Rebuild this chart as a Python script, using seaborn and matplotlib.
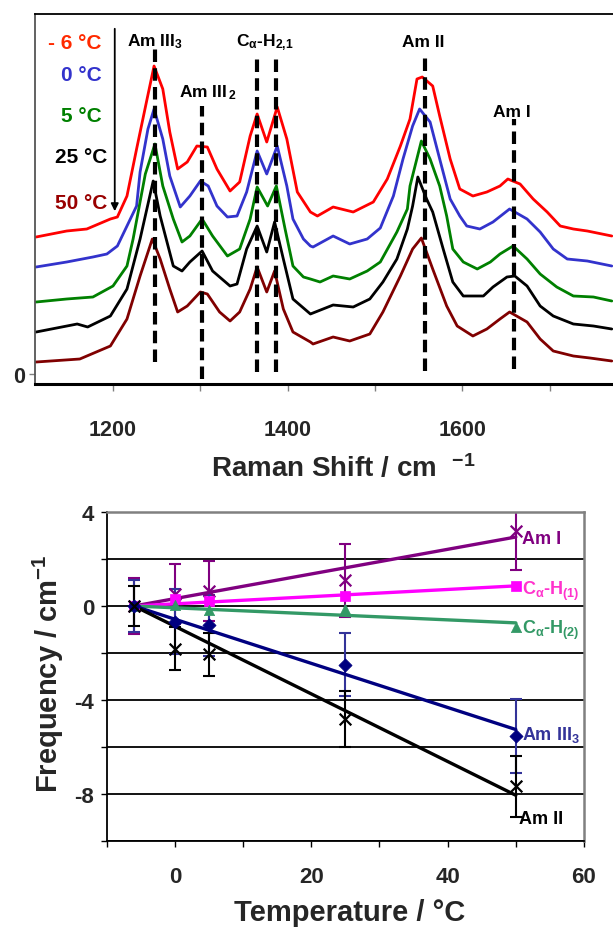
import numpy as np
import pandas as pd
import matplotlib
matplotlib.use("Agg")
import matplotlib.pyplot as plt
import seaborn as sns

# ---------------- top panel: Raman spectra ----------------
spec_temps = ["- 6 °C", "0 °C", "5 °C", "25 °C", "50 °C"]
spec_colors = ["#FF0000", "#3333CC", "#008000", "#000000", "#800000"]
label_colors = ["#FF2A00", "#3333CC", "#008000", "#000000", "#990000"]

wn_m6 = [1112, 1147, 1170, 1197, 1205, 1216, 1227, 1239, 1247, 1257, 1265, 1274, 1285, 1296, 1308, 1319, 1334,
         1345, 1357, 1365, 1376, 1388, 1399, 1411, 1426, 1434, 1452, 1475, 1498, 1514, 1529, 1540, 1548, 1554,
         1566, 1574, 1586, 1597, 1612, 1628, 1643, 1652, 1666, 1681, 1697, 1712, 1727, 1743, 1771]
I_m6 = [1.37, 1.43, 1.45, 1.55, 1.57, 1.78, 2.25, 2.75, 3.08, 2.85, 2.42, 2.05, 2.12, 2.28, 2.27, 2.05, 1.83,
        1.92, 2.38, 2.60, 2.32, 2.67, 2.35, 1.82, 1.62, 1.58, 1.67, 1.62, 1.72, 1.95, 2.28, 2.55, 2.95, 2.97,
        2.88, 2.58, 2.15, 1.85, 1.78, 1.82, 1.88, 1.95, 1.90, 1.75, 1.62, 1.48, 1.45, 1.43, 1.38]

wn_0 = [1112, 1147, 1177, 1193, 1205, 1216, 1227, 1231, 1240, 1247, 1257, 1265, 1277, 1288, 1300, 1309, 1319,
        1331, 1342, 1353, 1365, 1376, 1388, 1399, 1406, 1418, 1426, 1429, 1452, 1471, 1491, 1506, 1521, 1532,
        1543, 1551, 1563, 1574, 1586, 1597, 1605, 1620, 1635, 1654, 1674, 1689, 1704, 1720, 1743, 1771]
I_0 = [1.07, 1.12, 1.17, 1.20, 1.28, 1.48, 1.68, 2.02, 2.45, 2.65, 2.35, 1.98, 1.67, 1.78, 1.93, 1.88, 1.68,
       1.57, 1.58, 1.82, 2.23, 2.00, 2.28, 1.88, 1.55, 1.35, 1.28, 1.27, 1.38, 1.30, 1.35, 1.46, 1.78, 2.15,
       2.48, 2.65, 2.52, 2.15, 1.75, 1.58, 1.48, 1.45, 1.52, 1.65, 1.55, 1.42, 1.25, 1.15, 1.13, 1.08]

wn_5 = [1112, 1147, 1177, 1200, 1216, 1223, 1237, 1248, 1257, 1269, 1279, 1288, 1302, 1314, 1331, 1345, 1357,
        1365, 1377, 1387, 1397, 1406, 1418, 1426, 1437, 1452, 1471, 1491, 1506, 1525, 1537, 1540, 1553, 1563,
        1574, 1582, 1589, 1601, 1617, 1632, 1643, 1658, 1674, 1689, 1708, 1727, 1750, 1771]
I_5 = [0.72, 0.75, 0.77, 0.88, 1.08, 1.35, 2.00, 2.30, 1.88, 1.55, 1.32, 1.38, 1.55, 1.38, 1.18, 1.25, 1.55,
       1.87, 1.68, 1.88, 1.45, 1.08, 0.97, 0.95, 0.92, 0.98, 0.95, 1.03, 1.12, 1.42, 1.65, 1.88, 2.33, 2.15,
       1.88, 1.58, 1.25, 1.12, 1.05, 1.12, 1.20, 1.28, 1.15, 1.00, 0.87, 0.78, 0.77, 0.73]

wn_25 = [1112, 1159, 1171, 1197, 1216, 1231, 1246, 1254, 1269, 1279, 1288, 1302, 1314, 1334, 1342, 1353, 1365,
         1376, 1385, 1395, 1406, 1426, 1452, 1475, 1494, 1509, 1525, 1537, 1543, 1549, 1559, 1566, 1578, 1589,
         1601, 1624, 1635, 1651, 1660, 1674, 1689, 1704, 1727, 1750, 1771]
I_25 = [0.42, 0.50, 0.47, 0.58, 0.85, 1.35, 1.93, 1.58, 1.08, 1.03, 1.12, 1.23, 1.03, 0.88, 0.90, 1.25, 1.48,
        1.22, 1.52, 1.15, 0.75, 0.60, 0.69, 0.67, 0.75, 0.92, 1.15, 1.45, 1.68, 1.97, 1.75, 1.62, 1.25, 0.92,
        0.78, 0.78, 0.87, 0.97, 0.98, 0.88, 0.68, 0.58, 0.50, 0.48, 0.45]

wn_50 = [1112, 1162, 1197, 1216, 1231, 1245, 1254, 1265, 1274, 1285, 1300, 1308, 1322, 1334, 1345, 1357, 1365,
         1376, 1385, 1395, 1406, 1426, 1429, 1452, 1471, 1494, 1509, 1529, 1543, 1553, 1566, 1582, 1594, 1612,
         1628, 1643, 1654, 1674, 1689, 1704, 1727, 1746, 1771]
I_50 = [0.12, 0.15, 0.28, 0.55, 0.98, 1.35, 1.15, 0.85, 0.62, 0.68, 0.82, 0.80, 0.62, 0.53, 0.62, 0.85, 1.07,
        0.82, 1.03, 0.65, 0.42, 0.32, 0.30, 0.37, 0.33, 0.40, 0.62, 0.98, 1.25, 1.36, 1.05, 0.68, 0.48, 0.38,
        0.45, 0.55, 0.62, 0.52, 0.35, 0.23, 0.18, 0.16, 0.13]

peak_wn = [1248, 1302, 1365, 1387, 1557, 1659]
peak_top = [3.28, 2.68, 3.18, 3.18, 3.18, 2.55]
peak_bottom = [0.12, -0.05, 0.02, 0.02, 0.03, 0.05]
peak_names = ["Am III$_3$", "Am III$_{\\,2}$", "C$_α$-H$_{2,\\!1}$", "Am II", "Am I"]
peak_label_wn = [1248, 1308, 1374, 1555, 1657]
peak_label_I = [3.33, 2.82, 3.32, 3.33, 2.63]

# ---------------- bottom panel: frequency shifts ----------------
temperature = [-6, 0, 5, 25, 50]
modes = ["Am I", "Cα-H(1)", "Cα-H(2)", "Am III3", "Am II"]
mode_labels = ["Am I", "C$_α$-H$_{(1)}$", "C$_α$-H$_{(2)}$", "Am III$_3$", "Am II"]
shift_amI = [0.0, 0.50, 0.64, 1.09, 3.20]
shift_caH1 = [0.0, 0.30, 0.21, 0.43, 0.85]
shift_caH2 = [0.0, 0.05, -0.17, -0.12, -0.88]
shift_amIII3 = [0.0, -0.66, -0.82, -2.49, -5.52]
shift_amII = [0.0, -1.81, -2.06, -4.80, -7.67]
err_amI = [1.20, 1.27, 1.28, 1.55, 1.66]
err_amIII3 = [1.10, 1.40, 1.30, 1.35, 1.58]
err_amII = [0.85, 0.93, 0.92, 1.20, 1.30]

mode_colors = ["#800080", "#FF00FF", "#339966", "#000080", "#000000"]
mode_label_colors = ["#800080", "#FF33CC", "#339966", "#333399", "#000000"]
err_colors = ["#800080", None, None, "#333399", "#000000"]
mode_markers = ["x", "s", "^", "D", "x"]
mode_msize = [70, 45, 55, 45, 70]
label_baseline = [2.70, 0.50, -1.14, -5.67, -9.23]
label_T = [50.95, 50.95, 50.95, 50.95, 50.4]

# ---------------- style ----------------
sns.set_style("ticks")
plt.rcParams["font.family"] = ["Liberation Sans", "DejaVu Sans"]
plt.rcParams["font.weight"] = "bold"
plt.rcParams["axes.labelweight"] = "bold"
plt.rcParams["mathtext.fontset"] = "custom"
plt.rcParams["mathtext.rm"] = "Liberation Sans:bold"
plt.rcParams["mathtext.it"] = "Liberation Sans:bold"
plt.rcParams["mathtext.bf"] = "Liberation Sans:bold"
plt.rcParams["mathtext.sf"] = "Liberation Sans:bold"
plt.rcParams["mathtext.default"] = "rm"

fig = plt.figure(figsize=(6.13, 9.29), dpi=100)

# ================= TOP =================
ax1 = fig.add_axes([35 / 613, 1 - 385 / 929, 1 - 35 / 613, 370 / 929])
spec_frames = []
for name, wn, inten in zip(spec_temps, [wn_m6, wn_0, wn_5, wn_25, wn_50],
                           [I_m6, I_0, I_5, I_25, I_50]):
    spec_frames.append(pd.DataFrame({"wn": wn, "I": inten, "temp": name}))
spec_df = pd.concat(spec_frames, ignore_index=True)
sns.lineplot(data=spec_df, x="wn", y="I", hue="temp", hue_order=spec_temps,
             palette=dict(zip(spec_temps, spec_colors)), estimator=None, sort=False,
             legend=False, lw=2.0, ax=ax1)

ax1.vlines(peak_wn, peak_bottom, peak_top, colors="black", lw=3.0,
           linestyles=[(0, (3.0, 1.5))], zorder=5)
for name, x, y in zip(peak_names, peak_label_wn, peak_label_I):
    ax1.text(x, y, name, ha="center", va="center", fontsize=12.5, fontweight="bold", color="black")

temp_label_wn = [1187, 1187, 1187, 1194, 1194]
temp_label_I = [3.32, 3.00, 2.59, 2.18, 1.72]
for name, c, x, y in zip(spec_temps, label_colors, temp_label_wn, temp_label_I):
    ax1.text(x, y, name, ha="right", va="center", fontsize=15, fontweight="bold", color=c)
ax1.annotate("", xy=(1202, 1.60), xytext=(1202, 3.48),
             arrowprops=dict(arrowstyle="-|>", lw=1.3, color="black", mutation_scale=11))

ax1.set_xlim(1110.7, 1772.4)
ax1.set_ylim(-0.10, 3.60)
ax1.set_xticks([1200, 1300, 1400, 1500, 1600, 1700])
ax1.set_xticklabels(["1200", "", "1400", "", "1600", ""])
ax1.set_yticks([0])
ax1.set_yticklabels(["0"])
ax1.tick_params(axis="x", length=5, width=1, color="#808080", labelsize=15.5, pad=20)
ax1.tick_params(axis="y", length=4, width=1, color="#808080", labelsize=15.5, pad=3)
ax1.set_xlabel("")
ax1.set_ylabel("")
ax1.spines["right"].set_visible(False)
ax1.spines["top"].set_color("black")
ax1.spines["top"].set_linewidth(1.3)
ax1.spines["left"].set_color("#555555")
ax1.spines["left"].set_linewidth(1.3)
ax1.spines["bottom"].set_color("black")
ax1.spines["bottom"].set_linewidth(2.2)
for lab in ax1.get_xticklabels() + ax1.get_yticklabels():
    lab.set_fontweight("bold")

fig.text(343 / 613, 1 - 477 / 929, "Raman Shift / cm  $^{-1}$", ha="center", va="baseline",
         fontsize=20, fontweight="bold")

# ================= BOTTOM =================
ax2 = fig.add_axes([106.7 / 613, 1 - 842 / 929, (584 - 106.7) / 613, (842 - 513) / 929])
shift_lists = [shift_amI, shift_caH1, shift_caH2, shift_amIII3, shift_amII]
err_lists = [err_amI, None, None, err_amIII3, err_amII]

rows = []
for m, vals in zip(modes, shift_lists):
    for t, v in zip(temperature, vals):
        rows.append({"T": t, "shift": v, "mode": m})
shift_df = pd.DataFrame(rows)

# linear fits through the reference point (first temperature, zero shift)
t0 = temperature[0]
fit_rows = []
for m, vals in zip(modes, shift_lists):
    dT = np.array(temperature) - t0
    slope = np.sum(dT * np.array(vals)) / np.sum(dT ** 2)
    for t in (temperature[0], temperature[-1]):
        fit_rows.append({"T": t, "fit": slope * (t - t0), "mode": m})
fit_df = pd.DataFrame(fit_rows)

ax2.yaxis.grid(True, color="black", lw=1.3)
ax2.set_axisbelow(True)

for m, vals, errs, ec in zip(modes, shift_lists, err_lists, err_colors):
    if errs is not None:
        ax2.errorbar(temperature, vals, yerr=errs, fmt="none", ecolor=ec, elinewidth=1.5,
                     capsize=4.5, capthick=1.5, zorder=2)

sns.lineplot(data=fit_df, x="T", y="fit", hue="mode", hue_order=modes,
             palette=dict(zip(modes, mode_colors)), estimator=None, legend=False, lw=2.4,
             ax=ax2, zorder=3)

for m, c, mk, ms in zip(modes, mode_colors, mode_markers, mode_msize):
    sub = shift_df[shift_df["mode"] == m]
    if mk == "x":
        sns.scatterplot(data=sub, x="T", y="shift", marker=mk, s=ms, color=c,
                        linewidth=1.6, legend=False, ax=ax2, zorder=4)
    else:
        sns.scatterplot(data=sub, x="T", y="shift", marker=mk, s=ms, color=c,
                        edgecolor=c, linewidth=0.5, legend=False, ax=ax2, zorder=4)

for lab, c, x, y in zip(mode_labels, mode_label_colors, label_T, label_baseline):
    ax2.text(x, y, lab, ha="left", va="baseline", fontsize=13, fontweight="bold", color=c,
             clip_on=False)

ax2.set_xlim(-10, 60)
ax2.set_ylim(-10, 4)
ax2.set_xticks(np.arange(-10, 61, 10))
ax2.set_xticklabels(["", "0", "", "20", "", "40", "", "60"])
ax2.set_yticks(np.arange(-10, 5, 2))
ax2.set_yticklabels(["", "-8", "", "-4", "", "0", "", "4"])
ax2.tick_params(axis="both", length=4, width=1, color="black", labelsize=16)
ax2.tick_params(axis="x", pad=14)
ax2.tick_params(axis="y", pad=5)
for lab in ax2.get_xticklabels() + ax2.get_yticklabels():
    lab.set_fontweight("bold")
ax2.spines["left"].set_color("black")
ax2.spines["bottom"].set_color("black")
ax2.spines["left"].set_linewidth(1.3)
ax2.spines["bottom"].set_linewidth(1.3)
ax2.spines["top"].set_color("#808080")
ax2.spines["right"].set_color("#808080")
ax2.spines["top"].set_linewidth(1.8)
ax2.spines["right"].set_linewidth(1.8)
for s in ax2.spines.values():
    s.set_zorder(6)
ax2.set_xlabel("")
ax2.set_ylabel("")

fig.text(350 / 613, 1 - 921 / 929, "Temperature / °C", ha="center", va="baseline",
         fontsize=21, fontweight="bold")
fig.text(48 / 613, 1 - 674 / 929, "Frequency / cm$^{-1}$", ha="center", va="center",
         rotation=90, fontsize=21, fontweight="bold")

fig.savefig("out.png", dpi=100)
